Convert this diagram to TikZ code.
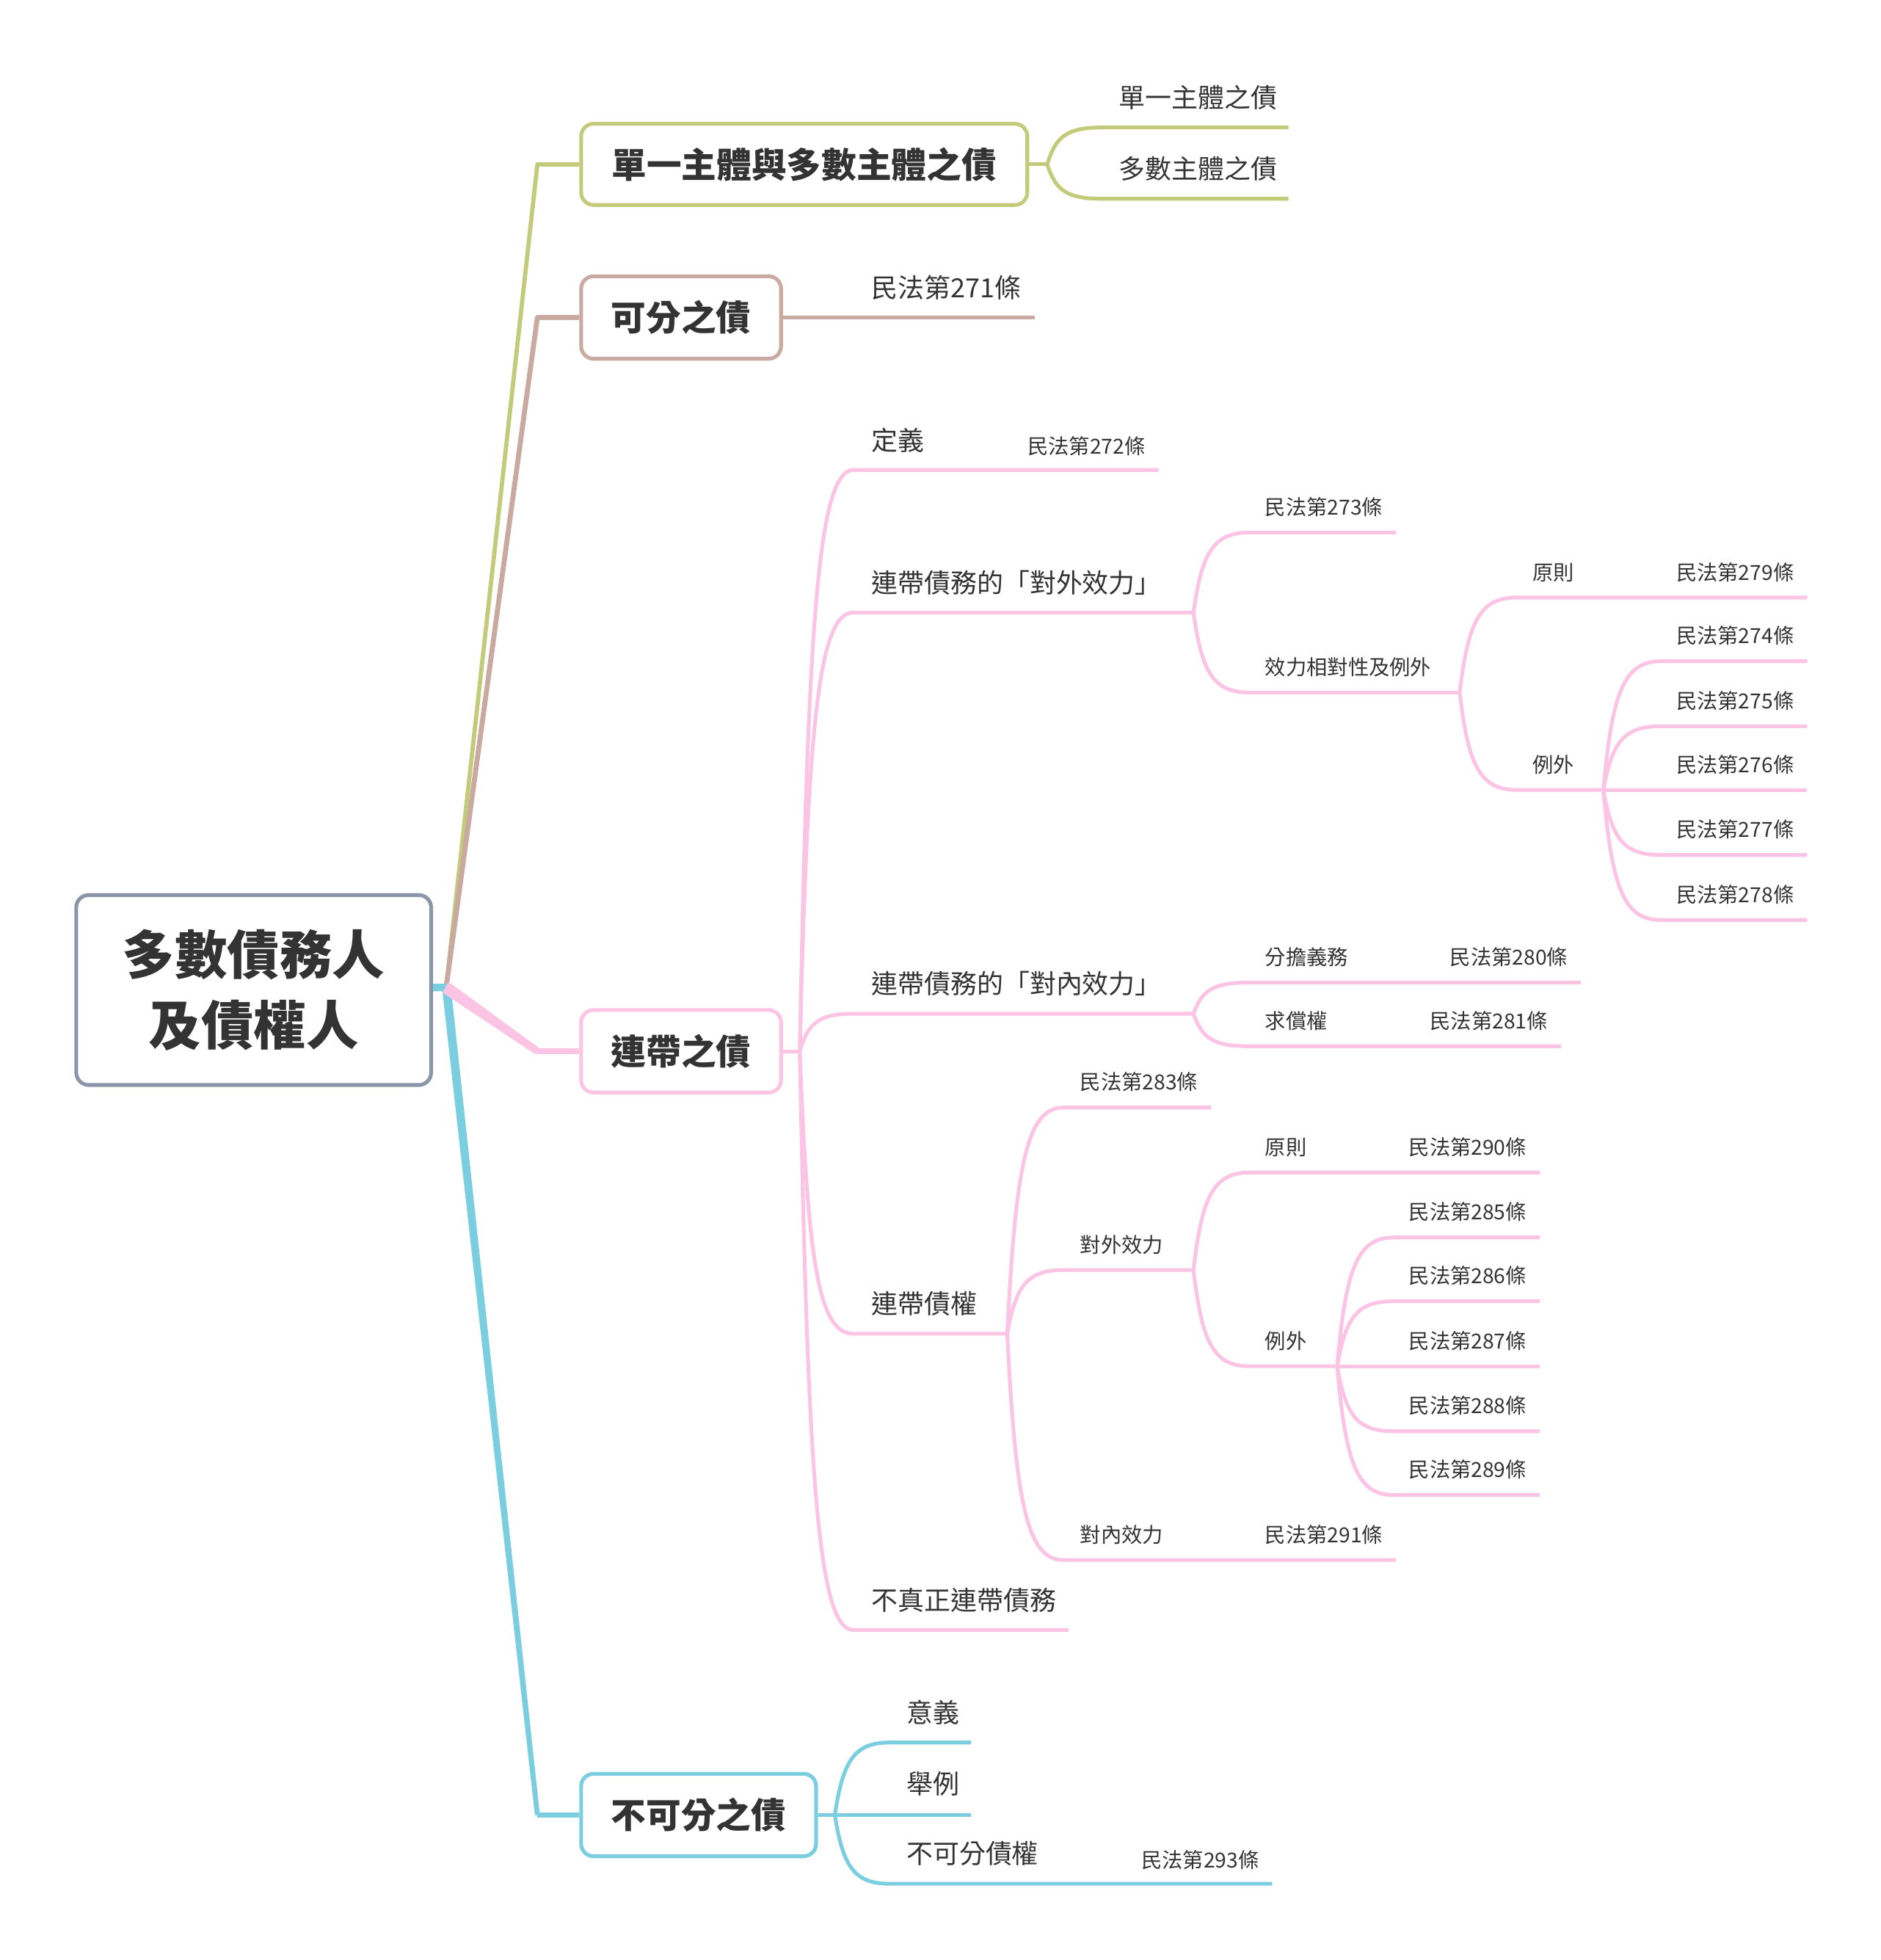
\documentclass[tikz,border=0pt]{standalone}
\usepackage{fontspec}
\setmainfont{Noto Sans CJK TC}
\usetikzlibrary{calc}
\definecolor{cgreen}{HTML}{C3CA79}
\definecolor{cbrown}{HTML}{C9A9A0}
\definecolor{cpink}{HTML}{FCC4E4}
\definecolor{cblue}{HTML}{7ACEE0}
\definecolor{cgray}{HTML}{8A96A8}
\definecolor{txt}{HTML}{333333}
\newcommand\mmbr[6][]{%
  \draw[br,#1] (#2,#3) .. controls ({#2+0.15*(#4-#2)},{#3+0.75*(#5-#3)}) and ({#2+0.35*(#4-#2)},#5) .. (#4,#5) -- (#6,#5);}
\begin{document}
\begin{tikzpicture}[x=0.5pt,y=-0.5pt,
  box/.style={draw, rounded corners=5pt, line width=1.5pt, fill=white, text=txt,
    font=\bfseries\fontsize{14}{17}\selectfont, inner sep=0pt},
  lbl/.style={anchor=base west, inner sep=0pt, text=txt, font=\fontsize{10.55}{12}\selectfont},
  slbl/.style={anchor=base west, inner sep=0pt, text=txt, font=\fontsize{8.3}{10}\selectfont},
  br/.style={line width=1.5pt},
  mainln/.style={line width=2pt, line join=round}]
\useasboundingbox (0,0) rectangle (1505,1568);

% root
\node[box, draw=cgray, minimum width=142pt, minimum height=76pt, align=center,
  font=\bfseries\fontsize{21}{28}\selectfont] (root) at (203,792) {多數債務人\\及債權人};
\coordinate (hub) at (357,790);

% level 1 boxes
\node[box, draw=cgreen, minimum width=178.5pt, minimum height=32.5pt] (g) at (643.5,131.5) {單一主體與多數主體之債};
\node[box, draw=cbrown, minimum width=80pt, minimum height=33pt] (b) at (545,254) {可分之債};
\node[box, draw=cpink, minimum width=80pt, minimum height=33pt] (p) at (545,841) {連帶之債};
\node[box, draw=cblue, minimum width=94pt, minimum height=33pt] (u) at (559,1452) {不可分之債};

% main connectors (slightly tapered towards the boxes)
\draw[mainln, cgreen, line width=1.7pt] (hub) -- (430,131.5) -- (g.west);
\draw[mainln, cbrown] (hub) -- (430,254) -- (b.west);
\fill[cblue] (root.east |- 0,787) -- (360.5,787) -- (432,1452) -- (428,1452) -- (354,793) -- (root.east |- 0,793) -- cycle;
\draw[mainln, cblue] (430,1452) -- (u.west);
\fill[cpink] (359,785.5) -- (431.5,838.5) -- (428.5,843.5) -- (354,794) -- cycle;
\draw[mainln, cpink, line width=2.4pt] (430,841) -- (p.west);

% green branch
\draw[br, cgreen] (g.east) -- (838,131.5);
\mmbr[cgreen]{838}{131.5}{882}{102}{1031}
\mmbr[cgreen]{838}{131.5}{882}{159}{1031}
\node[lbl] (g1) at (895,86) {單一主體之債};
\node[lbl] (g2) at (895,143) {多數主體之債};

% brown branch
\draw[br, cbrown] (b.east) -- (828,254);
\node[lbl] (b1) at (697,238) {民法第271條};

% pink branch
\draw[br, cpink] (p.east) -- (640,841);
\mmbr[cpink]{640}{841}{683}{376}{927}
\mmbr[cpink]{640}{841}{683}{490}{955}
\mmbr[cpink]{640}{841}{683}{811}{955}
\mmbr[cpink]{640}{841}{683}{1067}{806}
\mmbr[cpink]{640}{841}{683}{1304}{855}
\node[lbl] (p1) at (697,360) {定義};
\node[slbl] (p1a) at (822,363) {民法第272條};
\node[lbl] (p2) at (697,474) {連帶債務的「對外效力」};
\node[lbl] (p3) at (697,795) {連帶債務的「對內效力」};
\node[lbl] (p4) at (697,1051) {連帶債權};
\node[lbl] (p5) at (697,1288) {不真正連帶債務};

% 對外效力 (債務)
\mmbr[cpink]{955}{490}{1000}{426}{1117}
\mmbr[cpink]{955}{490}{1000}{554}{1168}
\node[slbl] (p2a) at (1012,412) {民法第273條};
\node[slbl] (p2b) at (1012,540) {效力相對性及例外};
\mmbr[cpink]{1168}{554}{1214}{478}{1446}
\mmbr[cpink]{1168}{554}{1214}{632}{1283}
\node[slbl] (p2b1) at (1226,464) {原則};
\node[slbl] (p2b1a) at (1341,464) {民法第279條};
\node[slbl] (p2b2) at (1226,618) {例外};
\mmbr[cpink]{1283}{632}{1329}{529}{1446}
\mmbr[cpink]{1283}{632}{1329}{581}{1446}
\mmbr[cpink]{1283}{632}{1329}{632}{1446}
\mmbr[cpink]{1283}{632}{1329}{684}{1446}
\mmbr[cpink]{1283}{632}{1329}{736}{1446}
\node[slbl] (e274) at (1341,515) {民法第274條};
\node[slbl] (e275) at (1341,567) {民法第275條};
\node[slbl] (e276) at (1341,618) {民法第276條};
\node[slbl] (e277) at (1341,670) {民法第277條};
\node[slbl] (e278) at (1341,722) {民法第278條};

% 對內效力 (債務)
\mmbr[cpink]{955}{811}{1000}{786}{1265}
\mmbr[cpink]{955}{811}{1000}{837}{1249}
\node[slbl] (p3a) at (1012,772) {分擔義務};
\node[slbl] (p3a1) at (1160,772) {民法第280條};
\node[slbl] (p3b) at (1012,823) {求償權};
\node[slbl] (p3b1) at (1144,823) {民法第281條};

% 連帶債權
\mmbr[cpink]{806}{1067}{851}{886}{969}
\mmbr[cpink]{806}{1067}{851}{1016}{955}
\mmbr[cpink]{806}{1067}{851}{1248}{1117}
\node[slbl] (p4a) at (864,872) {民法第283條};
\node[slbl] (p4b) at (864,1002) {對外效力};
\node[slbl] (p4c) at (864,1234) {對內效力};
\node[slbl] (p4c1) at (1012,1234) {民法第291條};
\mmbr[cpink]{955}{1016}{1000}{938}{1232}
\mmbr[cpink]{955}{1016}{1000}{1093}{1070}
\node[slbl] (p4b1) at (1012,924) {原則};
\node[slbl] (p4b1a) at (1127,924) {民法第290條};
\node[slbl] (p4b2) at (1012,1079) {例外};
\mmbr[cpink]{1070}{1093}{1115}{990}{1232}
\mmbr[cpink]{1070}{1093}{1115}{1041}{1232}
\mmbr[cpink]{1070}{1093}{1115}{1093}{1232}
\mmbr[cpink]{1070}{1093}{1115}{1145}{1232}
\mmbr[cpink]{1070}{1093}{1115}{1196}{1232}
\node[slbl] (e285) at (1127,976) {民法第285條};
\node[slbl] (e286) at (1127,1027) {民法第286條};
\node[slbl] (e287) at (1127,1079) {民法第287條};
\node[slbl] (e288) at (1127,1131) {民法第288條};
\node[slbl] (e289) at (1127,1182) {民法第289條};

% blue branch
\draw[br, cblue] (u.east) -- (668,1452);
\mmbr[cblue]{668}{1452}{712}{1394}{777}
\mmbr[cblue]{668}{1452}{712}{1452}{777}
\mmbr[cblue]{668}{1452}{712}{1507}{1018}
\node[lbl] (u1) at (725,1378) {意義};
\node[lbl] (u2) at (725,1435) {舉例};
\node[lbl] (u3) at (725,1491) {不可分債權};
\node[slbl] (u3a) at (913,1494) {民法第293條};
\end{tikzpicture}
\end{document}
